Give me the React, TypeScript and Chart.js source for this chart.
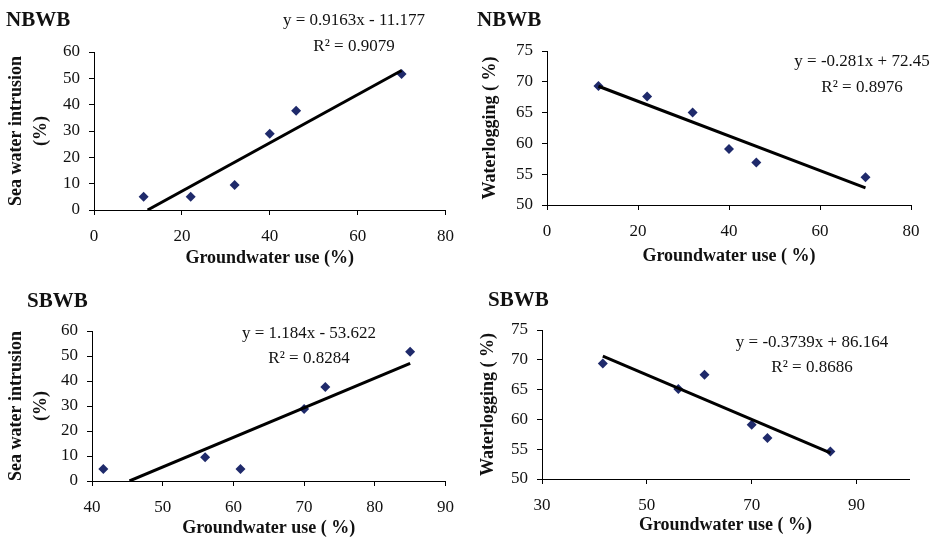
import React, { useEffect, useRef } from "react";
import { Chart, registerables } from "chart.js";

Chart.register(...registerables);

// ---- data ----
const nbwbGroundwaterUse = [11.3, 22, 32, 40, 46, 70];
const nbwbSeaWaterIntrusion = [5, 5, 9.5, 29, 37.7, 51.6];
const nbwbWaterlogging = [69.3, 67.6, 65, 59.1, 56.9, 54.5];

const sbwbGroundwaterUse = [41.6, 56, 61, 70, 73, 85];
const sbwbSeaWaterIntrusion = [4.8, 9.5, 4.8, 28.8, 37.6, 51.7];
const sbwbWaterlogging = [69.4, 65.1, 67.5, 59.1, 56.9, 54.6];

// tick labels
const nbwbXTicks = [0, 20, 40, 60, 80];
const sbwbSeaXTicks = [40, 50, 60, 70, 80, 90];
const sbwbWaterXTicks = [30, 50, 70, 90];
const seaYTicks = [0, 10, 20, 30, 40, 50, 60];
const waterYTicks = [50, 55, 60, 65, 70, 75];

// trend lines: [slope, intercept], and the x range they are drawn over
const trendNbwbSea = [0.9163, -11.177];
const trendNbwbSeaRange = [12.2, 70];
const trendNbwbWater = [-0.281, 72.45];
const trendNbwbWaterRange = [11.3, 70];
const trendSbwbSea = [1.184, -53.622];
const trendSbwbSeaRange = [45.3, 85];
const trendSbwbWater = [-0.3739, 86.164];
const trendSbwbWaterRange = [41.6, 85];

const equationLabels = [
  ["y = 0.9163x - 11.177", "R\u00B2 = 0.9079"],
  ["y = -0.281x + 72.45", "R\u00B2 = 0.8976"],
  ["y = 1.184x - 53.622", "R\u00B2 = 0.8284"],
  ["y = -0.3739x + 86.164", "R\u00B2 = 0.8686"],
];
const panelTitles = ["NBWB", "NBWB", "SBWB", "SBWB"];

const SERIF = "'Liberation Serif', 'Times New Roman', serif";
const MARKER = "#1f2a6b";

type PanelCfg = {
  left: number;
  top: number;
  width: number;
  height: number;
  xs: number[];
  ys: number[];
  trend: number[];
  trendRange: number[];
  xMin: number;
  xMax: number;
  xTicks: number[];
  yMin: number;
  yMax: number;
  yTicks: number[];
  yTitle: string | string[];
  xTitle: string;
  yTitlePad: number;
  xTitlePad: number;
  yWidth: number;
  xHeight: number;
  pad: { top: number; right: number };
  title: string;
  titlePos: [number, number];
  eq: string[];
  eqPos: [number, number, number];
};

const panels: PanelCfg[] = [
  {
    left: 0, top: 0, width: 465, height: 270,
    xs: nbwbGroundwaterUse, ys: nbwbSeaWaterIntrusion,
    trend: trendNbwbSea, trendRange: trendNbwbSeaRange,
    xMin: 0, xMax: 80, xTicks: nbwbXTicks, yMin: 0, yMax: 60, yTicks: seaYTicks,
    yTitle: ["Sea water intrusion", "(%)"], xTitle: "Groundwater use (%)",
    yTitlePad: 4, xTitlePad: 2, yWidth: 94, xHeight: 60,
    pad: { top: 52, right: 18 },
    title: panelTitles[0], titlePos: [6, 21],
    eq: equationLabels[0], eqPos: [354, 21, 47],
  },
  {
    left: 465, top: 0, width: 466, height: 270,
    xs: nbwbGroundwaterUse, ys: nbwbWaterlogging,
    trend: trendNbwbWater, trendRange: trendNbwbWaterRange,
    xMin: 0, xMax: 80, xTicks: nbwbXTicks, yMin: 50, yMax: 75, yTicks: waterYTicks,
    yTitle: "Waterlogging ( %)", xTitle: "Groundwater use ( %)",
    yTitlePad: 13, xTitlePad: 4, yWidth: 82, xHeight: 65,
    pad: { top: 51, right: 20 },
    title: panelTitles[1], titlePos: [12, 21],
    eq: equationLabels[1], eqPos: [397, 62, 88],
  },
  {
    left: 0, top: 270, width: 465, height: 268,
    xs: sbwbGroundwaterUse, ys: sbwbSeaWaterIntrusion,
    trend: trendSbwbSea, trendRange: trendSbwbSeaRange,
    xMin: 40, xMax: 90, xTicks: sbwbSeaXTicks, yMin: 0, yMax: 60, yTicks: seaYTicks,
    yTitle: ["Sea water intrusion", "(%)"], xTitle: "Groundwater use ( %)",
    yTitlePad: 4, xTitlePad: 0, yWidth: 92, xHeight: 57,
    pad: { top: 61, right: 17 },
    title: panelTitles[2], titlePos: [27, 32],
    eq: equationLabels[2], eqPos: [309, 64, 89],
  },
  {
    left: 465, top: 270, width: 466, height: 268,
    xs: sbwbGroundwaterUse, ys: sbwbWaterlogging,
    trend: trendSbwbWater, trendRange: trendSbwbWaterRange,
    xMin: 30, xMax: 100, xTicks: sbwbWaterXTicks, yMin: 50, yMax: 75, yTicks: waterYTicks,
    yTitle: "Waterlogging ( %)", xTitle: "Groundwater use ( %)",
    yTitlePad: 11, xTitlePad: 3, yWidth: 77, xHeight: 59,
    pad: { top: 60, right: 22 },
    title: panelTitles[3], titlePos: [23, 31],
    eq: equationLabels[3], eqPos: [347, 73, 98],
  },
];

const textPlugin = {
  id: "panelText",
  afterDraw(chart: any, _args: any, opts: any) {
    const ctx = chart.ctx;
    ctx.save();
    ctx.fillStyle = "#111";
    ctx.textBaseline = "middle";
    ctx.font = `bold 21px ${SERIF}`;
    ctx.textAlign = "left";
    ctx.fillText(opts.title, opts.titlePos[0], opts.titlePos[1]);
    ctx.font = `17px ${SERIF}`;
    ctx.textAlign = "center";
    ctx.fillText(opts.eq[0], opts.eqPos[0], opts.eqPos[1]);
    ctx.fillText(opts.eq[1], opts.eqPos[0], opts.eqPos[2]);
    ctx.restore();
  },
};

function Panel({ cfg }: { cfg: PanelCfg }) {
  const ref = useRef<HTMLCanvasElement>(null);
  useEffect(() => {
    if (!ref.current) return;
    const points = cfg.xs.map((x, i) => ({ x, y: cfg.ys[i] }));
    const [m, b] = cfg.trend;
    const trendPts = cfg.trendRange.map((x) => ({ x, y: m * x + b }));
    const tickFont = { family: SERIF, size: 17 };
    const axisCommon = {
      grid: {
        display: true,
        drawOnChartArea: false,
        drawTicks: true,
        tickLength: 5,
        color: "#000",
        lineWidth: 1,
      },
      border: { display: true, color: "#000", width: 1 },
    };
    const chart = new Chart(ref.current, {
      type: "scatter",
      data: {
        datasets: [
          {
            data: points,
            pointStyle: "rectRot",
            pointRadius: 5,
            pointBackgroundColor: MARKER,
            pointBorderColor: MARKER,
            pointBorderWidth: 0,
            showLine: false,
            order: 2,
          },
          {
            data: trendPts,
            showLine: true,
            borderColor: "#000",
            borderWidth: 3,
            pointRadius: 0,
            order: 1,
          },
        ],
      },
      options: {
        animation: false,
        responsive: false,
        layout: { padding: { left: 0, top: cfg.pad.top, right: cfg.pad.right, bottom: 0 } },
        plugins: {
          legend: { display: false },
          tooltip: { enabled: false },
          panelText: {
            title: cfg.title,
            titlePos: cfg.titlePos,
            eq: cfg.eq,
            eqPos: cfg.eqPos,
          },
        } as any,
        scales: {
          x: {
            type: "linear",
            min: cfg.xMin,
            max: cfg.xMax,
            ...axisCommon,
            afterBuildTicks(scale: any) {
              scale.ticks = cfg.xTicks.map((v) => ({ value: v }));
            },
            ticks: {
              font: tickFont,
              color: "#111",
              padding: 11,
              maxRotation: 0,
              autoSkip: false,
            },
            title: {
              display: true,
              text: cfg.xTitle,
              font: { family: SERIF, size: 18, weight: "bold", lineHeight: 1.1 },
              color: "#111",
              padding: { top: 0, bottom: cfg.xTitlePad },
            },
            afterFit(scale: any) {
              scale.height = cfg.xHeight;
            },
          },
          y: {
            type: "linear",
            min: cfg.yMin,
            max: cfg.yMax,
            ...axisCommon,
            afterBuildTicks(scale: any) {
              scale.ticks = cfg.yTicks.map((v) => ({ value: v }));
            },
            ticks: {
              font: tickFont,
              color: "#111",
              padding: 9,
              autoSkip: false,
            },
            title: {
              display: true,
              text: cfg.yTitle,
              font: { family: SERIF, size: 18, weight: "bold", lineHeight: 1.4 },
              color: "#111",
              padding: { top: cfg.yTitlePad, bottom: 0 },
            },
            afterFit(scale: any) {
              scale.width = cfg.yWidth;
            },
          },
        },
      } as any,
      plugins: [textPlugin],
    });
    return () => chart.destroy();
  }, [cfg]);
  return (
    <canvas
      ref={ref}
      width={cfg.width}
      height={cfg.height}
      style={{
        position: "absolute",
        left: cfg.left,
        top: cfg.top,
        width: cfg.width,
        height: cfg.height,
      }}
    />
  );
}

export default function App() {
  return (
    <div
      style={{
        position: "absolute",
        left: 0,
        top: 0,
        width: 931,
        height: 538,
        background: "#fff",
        overflow: "hidden",
      }}
    >
      {panels.map((p, i) => (
        <Panel key={i} cfg={p} />
      ))}
    </div>
  );
}
